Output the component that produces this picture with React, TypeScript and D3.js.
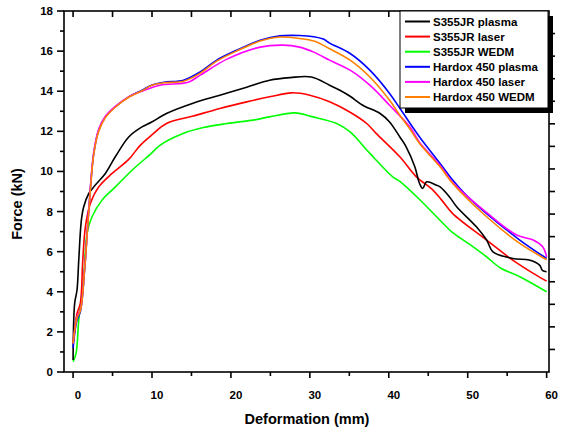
import React from "react";
import * as d3 from "d3";

// force-deformation curves: [deformation mm, force kN]
const s355Plasma: [number, number][] = [
  [0, 0.6], [0.2, 3.42], [0.5, 4.09], [0.72, 5.58], [1.05, 7.57], [1.35, 8.24], [1.99, 8.9],
  [2.82, 9.32], [4.09, 9.9], [5.35, 10.73], [7.05, 11.72], [8.73, 12.22], [9.91, 12.45],
  [11.9, 12.9], [15.2, 13.4], [18.6, 13.8], [22.0, 14.2], [24.9, 14.55], [27.5, 14.68],
  [30.2, 14.71], [32.5, 14.3], [33.8, 14.05], [35.1, 13.75], [36.7, 13.3], [38.9, 12.89],
  [40.1, 12.47], [41.4, 11.72], [42.2, 11.23], [43.3, 10.23], [43.9, 9.4], [44.3, 9.15],
  [44.8, 9.48], [46.0, 9.32], [46.5, 9.23], [47.7, 8.73], [48.6, 8.24], [51.1, 7.24],
  [52.4, 6.58], [53.2, 5.99], [55.7, 5.66], [57.8, 5.58], [59.1, 5.33], [59.5, 5.05], [60, 5.0],
];
const s355Laser: [number, number][] = [
  [0, 1.43], [0.5, 2.92], [0.92, 3.42], [1.23, 5.58], [1.56, 7.24], [2.19, 8.4], [3.25, 9.23],
  [4.94, 9.9], [7.05, 10.6], [8.5, 11.3], [9.91, 11.8], [11.9, 12.4], [15.2, 12.76],
  [18.6, 13.14], [22.0, 13.47], [24.9, 13.72], [27.7, 13.92], [30, 13.8], [32.5, 13.47],
  [35.1, 12.95], [37.2, 12.39], [38.4, 11.9], [41.4, 10.73], [43.5, 9.73], [45.6, 9.07],
  [46.7, 8.57], [48.1, 7.9], [52.4, 6.58], [55.7, 5.58], [58.3, 4.92], [60, 4.53],
];
const s355Wedm: [number, number][] = [
  [0, 0.51], [0.38, 0.93], [0.72, 2.59], [1.35, 4.75], [1.77, 6.91], [2.4, 7.74], [3.67, 8.57],
  [5.35, 9.23], [7.47, 10.06], [9.91, 10.9], [11.0, 11.3], [14.0, 11.9], [16.5, 12.19],
  [19.5, 12.39], [22.8, 12.56], [24.9, 12.72], [28.1, 12.92], [30.4, 12.72], [33.4, 12.39],
  [35.1, 11.97], [37.6, 10.9], [40.5, 9.73], [41.4, 9.5], [43.9, 8.6], [47.3, 7.24],
  [48.1, 6.95], [50.7, 6.24], [52.4, 5.74], [54.1, 5.2], [56.6, 4.75], [60, 4.0],
];
const hardoxPlasma: [number, number][] = [
  [0, 1.2], [0.5, 2.6], [0.92, 3.0], [1.48, 5.2], [1.99, 8.07], [2.62, 10.9], [3.25, 12.06],
  [4.09, 12.72], [5.35, 13.22], [7.05, 13.72], [8.73, 14.05], [9.91, 14.3], [11.5, 14.45],
  [14.0, 14.55], [16.1, 14.96], [18.2, 15.55], [20.7, 16.04], [23.7, 16.54], [26.2, 16.76],
  [28.7, 16.78], [30.5, 16.72], [31.7, 16.6], [32.5, 16.4], [35.1, 15.88], [37.6, 15.05],
  [40.1, 13.89], [41.4, 13.15], [43.9, 11.72], [46.5, 10.4], [48.1, 9.57], [49.8, 8.82],
  [52.4, 7.9], [56.6, 6.58], [60, 5.66],
];
const hardoxLaser: [number, number][] = [
  [0, 1.43], [0.5, 2.76], [0.92, 3.09], [1.48, 5.25], [1.99, 8.1], [2.62, 10.95], [3.25, 12.1],
  [4.09, 12.75], [5.35, 13.25], [7.05, 13.72], [8.73, 14.0], [11.0, 14.3], [14.6, 14.45],
  [16.1, 14.8], [19.5, 15.6], [23.7, 16.2], [26.6, 16.3], [28.7, 16.2], [30.5, 15.95],
  [32.5, 15.55], [35.1, 15.05], [37.6, 14.3], [40.1, 13.3], [42.7, 12.2], [43.9, 11.45],
  [46.5, 10.3], [48.1, 9.45], [52.4, 7.95], [56.2, 6.83], [58.3, 6.58], [59.5, 6.24], [60, 5.74],
];
const hardoxWedm: [number, number][] = [
  [0, 1.43], [0.5, 2.7], [0.92, 3.05], [1.48, 5.2], [1.99, 8.0], [2.62, 10.85], [3.25, 12.0],
  [4.09, 12.68], [5.35, 13.2], [7.05, 13.7], [8.73, 14.02], [9.91, 14.28], [11.5, 14.42],
  [14.0, 14.5], [16.1, 14.9], [18.2, 15.5], [20.7, 16.0], [23.7, 16.5], [26.2, 16.7],
  [28.7, 16.63], [30.5, 16.5], [32.5, 16.12], [35.1, 15.55], [37.6, 14.71], [40.1, 13.55],
  [41.4, 12.8], [42.7, 12.1], [43.9, 11.39], [46.5, 10.23], [48.1, 9.4], [52.4, 7.74],
  [56.6, 6.41], [60, 5.6],
];

const seriesNames = [
  "S355JR plasma", "S355JR laser", "S355JR WEDM",
  "Hardox 450 plasma", "Hardox 450 laser", "Hardox 450 WEDM",
];
const seriesColors = ["#000000", "#ff0000", "#00ff00", "#0000ff", "#ff00ff", "#ff8000"];
const seriesData = [s355Plasma, s355Laser, s355Wedm, hardoxPlasma, hardoxLaser, hardoxWedm];
// draw order so the top curves overlap like the original
const drawOrder = [2, 1, 0, 3, 4, 5];

const xTicks = [0, 10, 20, 30, 40, 50, 60];
const xMinor = [5, 15, 25, 35, 45, 55];
const yTicks = [0, 2, 4, 6, 8, 10, 12, 14, 16, 18];
const yMinor = [1, 3, 5, 7, 9, 11, 13, 15, 17];

export default function App() {
  const width = 566;
  const height = 432;
  const left = 64, right = 549, top = 11, bottom = 372;

  const x = d3.scaleLinear().domain([-1.15, 60.3]).range([left, right]);
  const y = d3.scaleLinear().domain([0, 18]).range([bottom, top]);
  const line = d3.line<[number, number]>()
    .x(d => x(d[0]))
    .y(d => y(d[1]))
    .curve(d3.curveCatmullRom.alpha(0.5));

  const font = "'Liberation Sans', Arial, sans-serif";
  const rightTicks = d3.range(1, 16).map(i => top + (i * (bottom - top)) / 16);

  const legX = 400, legY = 11, legW = 148, legH = 97;

  return (
    <svg width={width} height={height} style={{ position: "absolute", left: 0, top: 0 }}>
      <rect width={width} height={height} fill="#fff" />
      <g fill="none" strokeWidth={1.6} strokeLinejoin="round">
        {drawOrder.map(i => (
          <path key={i} d={line(seriesData[i]) || ""} stroke={seriesColors[i]} />
        ))}
      </g>

      {/* frame */}
      <rect x={left} y={top} width={right - left} height={bottom - top} fill="none" stroke="#000" strokeWidth={1.6} />

      {/* bottom axis, top ticks point inward */}
      {xTicks.map(t => (
        <g key={"x" + t}>
          <line x1={x(t)} x2={x(t)} y1={bottom} y2={bottom + 6} stroke="#000" strokeWidth={1.6} />
          <line x1={x(t)} x2={x(t)} y1={top} y2={top + 6} stroke="#000" strokeWidth={1.6} />
          <text x={x(t) + 5} y={bottom + 27} textAnchor="middle" fontFamily={font} fontWeight="bold" fontSize={11.5}>{t}</text>
        </g>
      ))}
      {xMinor.map(t => (
        <g key={"xm" + t}>
          <line x1={x(t)} x2={x(t)} y1={bottom} y2={bottom + 4} stroke="#000" strokeWidth={1.6} />
          <line x1={x(t)} x2={x(t)} y1={top} y2={top + 6} stroke="#000" strokeWidth={1.6} />
        </g>
      ))}

      {/* left axis */}
      {yTicks.map(t => (
        <g key={"y" + t}>
          <line x1={left - 7} x2={left} y1={y(t)} y2={y(t)} stroke="#000" strokeWidth={1.6} />
          <text x={left - 11} y={y(t) + 4} textAnchor="end" fontFamily={font} fontWeight="bold" fontSize={11.5}>{t}</text>
        </g>
      ))}
      {yMinor.map(t => (
        <line key={"ym" + t} x1={left - 4} x2={left} y1={y(t)} y2={y(t)} stroke="#000" strokeWidth={1.6} />
      ))}

      {/* right axis ticks */}
      {rightTicks.map((py, i) => (
        <line key={"r" + i} x1={right} x2={right + 6} y1={py} y2={py} stroke="#000" strokeWidth={1.6} />
      ))}

      {/* titles */}
      <text x={307} y={424} textAnchor="middle" fontFamily={font} fontWeight="bold" fontSize={14.5}>Deformation (mm)</text>
      <text transform="translate(22,204) rotate(-90)" textAnchor="middle" fontFamily={font} fontWeight="bold" fontSize={14.5}>Force (kN)</text>

      {/* legend with drop shadow */}
      <rect x={legX + 5} y={legY + 5} width={legW} height={legH} fill="#000" />
      <rect x={legX} y={legY} width={legW} height={legH} fill="#fff" stroke="#000" strokeWidth={1} />
      {seriesNames.map((name, i) => {
        const cy = legY + 10.5 + i * 15.1;
        return (
          <g key={name}>
            <line x1={legX + 5} x2={legX + 30} y1={cy} y2={cy} stroke={seriesColors[i]} strokeWidth={2} />
            <text x={legX + 33} y={cy + 4} fontFamily={font} fontWeight="bold" fontSize={11.5}>{name}</text>
          </g>
        );
      })}
    </svg>
  );
}
